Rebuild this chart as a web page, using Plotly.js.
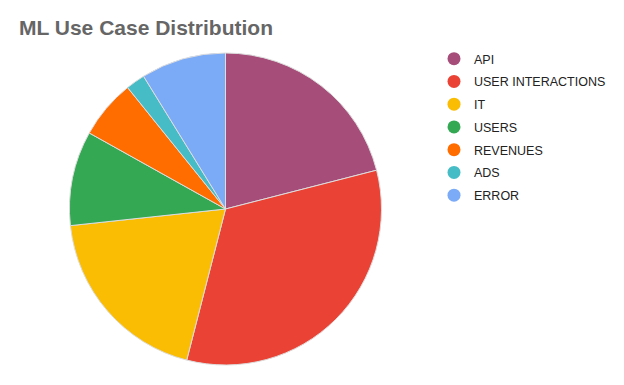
<!DOCTYPE html>
<html>
<head>
<meta charset="utf-8">
<script src="https://cdn.plot.ly/plotly-3.0.1.min.js"></script>
<style>html,body{margin:0;padding:0;background:#fff;}#chart{width:624px;height:385px;}</style>
</head>
<body>
<div id="chart"></div>
<script>
const categories = ["API", "USER INTERACTIONS", "IT", "USERS", "REVENUES", "ADS", "ERROR"];
const values = [21, 33, 19.3, 9.8, 6.1, 2, 8.8];
const colors = ["#a64d79", "#ea4335", "#fbbc04", "#34a853", "#ff6d01", "#46bdc6", "#7baaf7"];
const titleText = "ML Use Case Distribution";

const pie = {
  type: "pie",
  labels: categories,
  values: values,
  sort: false,
  direction: "clockwise",
  rotation: 0,
  textinfo: "none",
  hoverinfo: "label+percent",
  marker: { colors: colors, line: { color: "#dddddd", width: 1 } },
  domain: { x: [69/624, 382/624], y: [1 - 365/385, 1 - 53/385] },
  showlegend: false
};

const legendTraces = categories.map((c, i) => ({
  type: "scatter",
  mode: "markers",
  x: [null], y: [null],
  name: c,
  legendgroup: "g" + i,
  marker: { color: colors[i], size: 13, symbol: "circle" },
  hoverinfo: "skip",
  showlegend: true
}));

const layout = {
  width: 624, height: 385,
  margin: { l: 0, r: 0, t: 0, b: 0 },
  paper_bgcolor: "#ffffff",
  plot_bgcolor: "#ffffff",
  title: {
    text: "<b>" + titleText + "</b>",
    font: { family: "Liberation Sans, Arial, sans-serif", size: 21, color: "#666666" },
    x: 19/624, xanchor: "left", xref: "paper",
    y: 1 - 28/385, yanchor: "middle", yref: "paper"
  },
  xaxis: { visible: false, domain: [0.99, 1] },
  yaxis: { visible: false, domain: [0.99, 1] },
  legend: {
    x: 434/624, xanchor: "left",
    y: 1 - 44/385, yanchor: "top",
    font: { family: "Liberation Sans, Arial, sans-serif", size: 12.5, color: "#222222" },
    tracegroupgap: 3.5,
    bgcolor: "rgba(0,0,0,0)"
  },
  showlegend: true
};

Plotly.newPlot("chart", [pie].concat(legendTraces), layout, { displayModeBar: false, staticPlot: true });
</script>
</body>
</html>
